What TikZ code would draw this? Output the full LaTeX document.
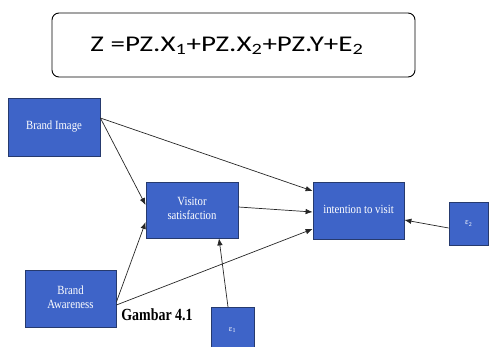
\documentclass[tikz,border=0pt]{standalone}
\usepackage{fontspec}
\usepackage{graphicx}
\setmainfont{Liberation Serif}
\newfontfamily\calib{Carlito}
\usetikzlibrary{arrows.meta}
\definecolor{boxblue}{RGB}{62,100,200}
\definecolor{boxedge}{RGB}{38,58,110}
\newcommand{\nt}[1]{\scalebox{0.86}[1]{\begin{tabular}{@{}c@{}}#1\end{tabular}}}
\tikzset{
  bluebox/.style={draw=boxedge, fill=boxblue, line width=0.8pt, text=white,
    font=\fontsize{12.5}{14}\selectfont, align=center, inner sep=0pt},
  conn/.style={draw=black!85, line width=0.7pt, -{Latex[length=7pt,width=5.5pt]}}
}
\begin{document}
\begin{tikzpicture}[x=1pt,y=-1pt]
\useasboundingbox (0,0) rectangle (489,347);
\node[draw, line width=0.9pt, rounded corners=7pt, minimum width=363pt, minimum height=64pt, inner sep=0pt]
  (eq) at (233.5,45) {};
\node[font=\calib\fontsize{22.5}{24}\selectfont, inner sep=0pt] (eqt) at (227,46)
  {\scalebox{1.29}[1]{Z =PZ.X\textsubscript{1}+PZ.X\textsubscript{2}+PZ.Y+E\textsubscript{2}}};
\node[bluebox, minimum width=92pt, minimum height=58pt] (bi) at (54,127) {\nt{Brand Image}};
\node[bluebox, minimum width=92pt, minimum height=56pt] (vs) at (192,210) {\nt{Visitor\\satisfaction}};
\node[bluebox, minimum width=91pt, minimum height=57pt] (iv) at (358.5,210.5) {\nt{intention to visit}};
\node[bluebox, minimum width=39.5pt, minimum height=43pt, font=\fontsize{8.5}{9}\selectfont] (e2) at (468.75,223.5) {ε\textsubscript{2}};
\node[bluebox, minimum width=43pt, minimum height=45pt, font=\fontsize{8.5}{9}\selectfont, anchor=north] (e1) at (232.5,307) {ε\textsubscript{1}};
\node[bluebox, minimum width=91pt, minimum height=57pt] (ba) at (70.5,298.5) {\nt{Brand\\Awareness}};
\node[font=\bfseries\fontsize{17}{18}\selectfont, inner sep=0pt] (gam) at (157,315) {\scalebox{0.82}[1]{Gambar 4.1}};
\draw[conn] ([yshift=9pt]bi.east) -- ([yshift=5pt]vs.west);
\draw[conn] ([yshift=9pt]bi.east) -- ([yshift=19.5pt]iv.west);
\draw[conn] ([yshift=3pt]vs.east) -- ([yshift=-1.5pt]iv.west);
\draw[conn] ([yshift=-6.5pt]ba.east) -- ([yshift=-18.5pt]iv.west);
\draw[conn] ([yshift=-3.5pt]ba.east) -- ([yshift=-12pt]vs.west);
\draw[conn] ([xshift=-4.5pt]e1.north) -- ([xshift=27pt]vs.south);
\draw[conn] ([yshift=-4.5pt]e2.west) -- ([yshift=-9.5pt]iv.east);
\end{tikzpicture}
\end{document}
